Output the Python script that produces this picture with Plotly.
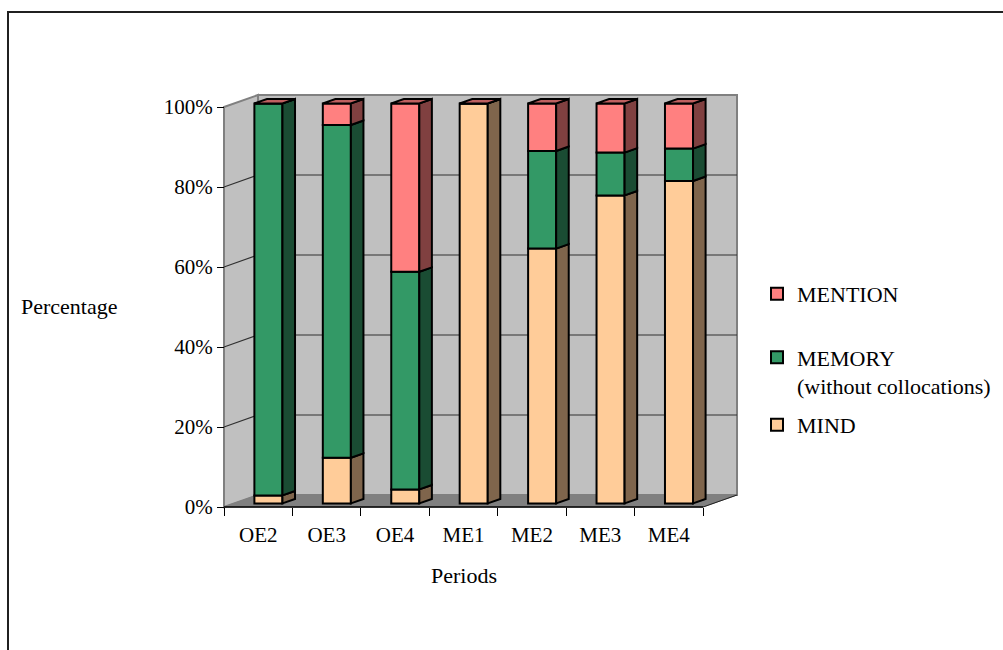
import plotly.graph_objects as go
import numpy as np

# Share of each word per period (percent)
periods = ["OE2", "OE3", "OE4", "ME1", "ME2", "ME3", "ME4"]
mind = [2.0, 11.4, 3.5, 100.0, 63.7, 77.0, 80.6]
memory = [98.0, 83.2, 54.4, 0.0, 24.4, 10.7, 8.1]
mention = [0.0, 5.4, 42.1, 0.0, 11.9, 12.3, 11.3]
y_ticks = [0, 20, 40, 60, 80, 100]
y_labels = [f"{v}%" for v in y_ticks]

series = [
    ("MIND", mind, "#FFCC99", "#7F654C"),
    ("MEMORY<br>(without collocations)", memory, "#339966", "#1A4C33"),
    ("MENTION", mention, "#FF8080", "#804040"),
]
top_color = "#BF6060"

# pseudo-3D geometry (in axis units)
W, H = 1003, 650
PX_CAT = 68.43      # pixels per category
PX_PCT = 4.0        # pixels per percent
L, R, T, B = 220, 742, 90, 509   # plot area in pixels
DX = 34 / PX_CAT    # depth of the walls along x
DY = 12 / PX_PCT    # depth of the walls along y
F1, F2 = 0.30, 0.67 # front / back of the bars as depth fractions
BW = 0.41           # bar width in categories
n = len(periods)

x_range = [(L - 224) / PX_CAT, (R - 224) / PX_CAT]
y_range = [(507 - B) / PX_PCT, (507 - T) / PX_PCT]

def poly(pts):
    return "M " + " L ".join(f"{x:.4f},{y:.4f}" for x, y in pts) + " Z"

shapes = []
wall_line = dict(color="#808080", width=2)
# back wall, left wall, floor
shapes.append(dict(type="path", xref="x", yref="y", layer="below",
                   path=poly([(DX, DY), (n + DX, DY), (n + DX, 100 + DY), (DX, 100 + DY)]),
                   fillcolor="#C0C0C0", line=wall_line))
shapes.append(dict(type="path", xref="x", yref="y", layer="below",
                   path=poly([(0, 0), (DX, DY), (DX, 100 + DY), (0, 100)]),
                   fillcolor="#C0C0C0", line=wall_line))
shapes.append(dict(type="path", xref="x", yref="y", layer="below",
                   path=poly([(0, 0), (n, 0), (n + DX, DY), (DX, DY)]),
                   fillcolor="#808080", line=dict(color="#808080", width=1)))
# gridlines on both walls
for v in y_ticks[1:-1]:
    shapes.append(dict(type="line", xref="x", yref="y", layer="below",
                       x0=DX, y0=v + DY, x1=n + DX, y1=v + DY,
                       line=dict(color="#303030", width=1.2)))
    shapes.append(dict(type="line", xref="x", yref="y", layer="below",
                       x0=0, y0=v, x1=DX, y1=v + DY,
                       line=dict(color="#303030", width=1.2)))
# category axis line and floor edge
shapes.append(dict(type="line", xref="x", yref="y", layer="below",
                   x0=0, y0=0, x1=n, y1=0, line=dict(color="black", width=1.5)))
shapes.append(dict(type="line", xref="x", yref="y", layer="below",
                   x0=n, y0=0, x1=n + DX, y1=DY, line=dict(color="#202020", width=1)))

fig = go.Figure()
xc = np.arange(n) + 0.5 + F1 * DX
sx, sy = F1 * DX, F1 * DY
ddx, ddy = (F2 - F1) * DX, (F2 - F1) * DY
base = np.zeros(n)
edge = dict(color="black", width=2)
legends = ["legend", "legend2", "legend3"]
for k, (name, vals, front, side) in enumerate(series):
    vals = np.array(vals)
    fig.add_trace(go.Bar(
        x=xc, y=vals, base=base + sy, width=BW, name=name,
        marker=dict(color=front, line=edge), legend=legends[k],
        hoverinfo="skip"))
    # right-hand side face of every segment
    for i in range(n):
        xr = xc[i] + BW / 2
        b0, b1 = base[i] + sy, base[i] + vals[i] + sy
        shapes.append(dict(type="path", xref="x", yref="y", layer="above",
                           path=poly([(xr, b0), (xr + ddx, b0 + ddy),
                                      (xr + ddx, b1 + ddy), (xr, b1)]),
                           fillcolor=side, line=edge))
    base = base + vals

# top face of each stack
for i in range(n):
    xl, xr, t = xc[i] - BW / 2, xc[i] + BW / 2, base[i] + sy
    shapes.append(dict(type="path", xref="x", yref="y", layer="above",
                       path=poly([(xl, t), (xr, t), (xr + ddx, t + ddy), (xl + ddx, t + ddy)]),
                       fillcolor=top_color, line=edge))

# outer frame
def px_x(p):
    return (p - L) / (R - L)

def px_y(p):
    return (B - p) / (B - T)

shapes.append(dict(type="rect", xref="paper", yref="paper", layer="above",
                   x0=px_x(8), y0=px_y(12), x1=px_x(1015), y1=px_y(665),
                   line=dict(color="#202020", width=2), fillcolor="rgba(0,0,0,0)"))

FONT = "Liberation Serif, Times New Roman, serif"
fs = 22

legend_common = dict(xanchor="left", yanchor="middle", bgcolor="rgba(0,0,0,0)",
                     font=dict(family=FONT, size=fs, color="black"),
                     valign="top", itemclick=False, itemdoubleclick=False)
fig.update_layout(
    legend=dict(x=px_x(757), y=px_y(425), **legend_common),
    legend2=dict(x=px_x(757), y=px_y(372), **legend_common),
    legend3=dict(x=px_x(757), y=px_y(294), **legend_common),
)

fig.update_layout(
    width=W, height=H,
    margin=dict(l=L, r=W - R, t=T, b=H - B, pad=0, autoexpand=False),
    paper_bgcolor="white", plot_bgcolor="rgba(0,0,0,0)",
    barmode="overlay", showlegend=True,
    font=dict(family=FONT, size=fs, color="black"),
    shapes=shapes,
    xaxis=dict(range=x_range, showgrid=False, zeroline=False, showline=False,
               tickmode="array", tickvals=np.arange(n) + 0.5, ticktext=periods,
               ticks="outside", ticklen=9, tickcolor="rgba(0,0,0,0)",
               minor=dict(ticks="outside", ticklen=8, tickcolor="black", tickwidth=1,
                          tickmode="array", tickvals=list(range(n + 1))),
               anchor="free", position=px_y(507), fixedrange=True, automargin=False,
               tickfont=dict(family=FONT, size=21)),
    yaxis=dict(range=y_range, showgrid=False, zeroline=False, showline=False,
               tickmode="array", tickvals=y_ticks, ticktext=y_labels,
               ticks="outside", ticklen=7, tickcolor="black", tickwidth=1,
               anchor="free", position=px_x(224), fixedrange=True, automargin=False,
               tickfont=dict(family=FONT, size=21)),
    annotations=[
        dict(text="Percentage", xref="paper", yref="paper", x=px_x(19), y=px_y(306),
             xanchor="left", yanchor="middle", showarrow=False,
             font=dict(family=FONT, size=fs)),
        dict(text="Periods", xref="paper", yref="paper", x=px_x(463.5), y=px_y(575),
             xanchor="center", yanchor="middle", showarrow=False,
             font=dict(family=FONT, size=fs)),
    ],
)

fig.write_html("out.html")
